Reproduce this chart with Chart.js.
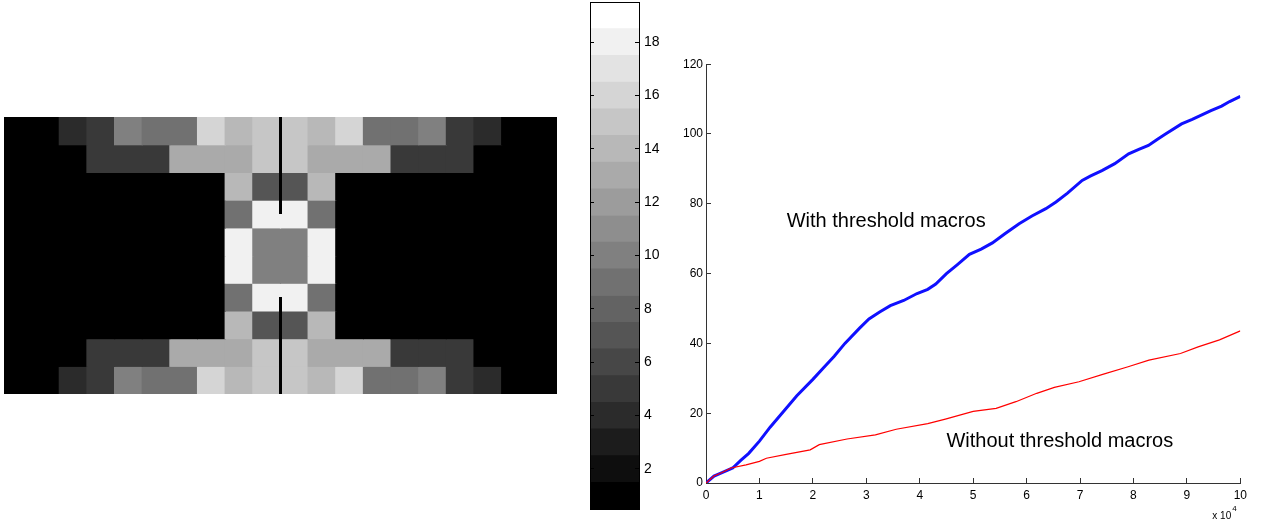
<!DOCTYPE html>
<html>
<head>
<meta charset="utf-8">
<script src="https://cdn.jsdelivr.net/npm/chart.js@4.4.1/dist/chart.umd.min.js"></script>
<style>
body { margin: 0; background: #fff; width: 1262px; height: 519px; overflow: hidden; position: relative; }
canvas { position: absolute; }
</style>
</head>
<body>
<canvas id="heat" width="553" height="277" style="left:4px;top:117px"></canvas>
<canvas id="scale" width="81" height="512" style="left:588px;top:0px"></canvas>
<canvas id="growth" width="591" height="472" style="left:666px;top:49px"></canvas>
<script>
// grid of levels (1..19), rows top to bottom
const heatCols = ['1','2','3','4','5','6','7','8','9','10','11','12','13','14','15','16','17','18','19','20'];
const heatRows = [
  [1,1,4,5,10,9,9,16,14,15,15,14,16,9,9,10,5,4,1,1],
  [1,1,1,5,5,5,13,13,13,15,15,13,13,13,5,5,5,1,1,1],
  [1,1,1,1,1,1,1,1,14,7,7,14,1,1,1,1,1,1,1,1],
  [1,1,1,1,1,1,1,1,9,18,18,9,1,1,1,1,1,1,1,1],
  [1,1,1,1,1,1,1,1,18,10,10,18,1,1,1,1,1,1,1,1],
  [1,1,1,1,1,1,1,1,18,10,10,18,1,1,1,1,1,1,1,1],
  [1,1,1,1,1,1,1,1,9,18,18,9,1,1,1,1,1,1,1,1],
  [1,1,1,1,1,1,1,1,14,7,7,14,1,1,1,1,1,1,1,1],
  [1,1,1,5,5,5,13,13,13,15,15,13,13,13,5,5,5,1,1,1],
  [1,1,4,5,10,9,9,16,14,15,15,14,16,9,9,10,5,4,1,1]
];
// the black cut in the middle column (grid units)
const cutX = 10;
const cutTop = [0, 3.5];
const cutBottom = [6.5, 10];

const cbLevels = [1,2,3,4,5,6,7,8,9,10,11,12,13,14,15,16,17,18,19];
const cbTicks = [2,4,6,8,10,12,14,16,18];

const stepsWith = [0,1500,3000,5000,6500,8000,10000,12000,14500,17000,20000,22000,24000,26000,28700,30500,32500,34500,37000,39500,41500,43000,45000,47000,49300,51500,53600,56000,58600,61000,63600,65500,67600,70400,72000,74100,76500,79100,81000,82800,84500,86000,89000,91000,92800,94500,96500,98000,100000];
const countWith = [0,2,3,4.3,6.5,8.5,12,16,20.5,25,29.7,33,36.3,40,44.3,47,49,50.8,52.3,54.3,55.5,57,60,62.5,65.5,67,68.8,71.5,74.3,76.5,78.6,80.5,83,86.7,88,89.5,91.5,94.3,95.6,96.7,98.5,100,102.9,104.2,105.5,106.7,108,109.3,110.8];
const stepsWithout = [0,1500,3000,4700,7500,10000,11300,15000,19500,21200,26400,31700,35600,41500,44800,50000,54300,58000,61900,65200,69800,74400,79000,82900,88800,92100,96100,100000];
const countWithout = [0,2,3,4.3,5.2,6.2,7.1,8.2,9.5,11,12.6,13.8,15.4,17,18.3,20.5,21.4,23.3,25.7,27.4,29,31.2,33.3,35.2,37.1,39,41,43.6];

const xTicks = [0,1,2,3,4,5,6,7,8,9,10];
const yTicks = [0,20,40,60,80,100,120];

const notes = [
  { text: 'With threshold macros', x: 15100, y: 75 },
  { text: 'Without threshold macros', x: 45000, y: 12 }
];

const fam = '"Liberation Sans", Arial, sans-serif';

function grey(k) {
  const g = Math.round((k - 1) / 18 * 255);
  return 'rgb(' + g + ',' + g + ',' + g + ')';
}

// --- image of cells ---
new Chart(document.getElementById('heat'), {
  type: 'bar',
  data: {
    labels: heatCols,
    datasets: [
      ...heatRows.map(row => ({
        data: row.map(() => 1),
        backgroundColor: row.map(grey),
        borderWidth: 0,
        barPercentage: 1,
        categoryPercentage: 1,
        inflateAmount: 0.6,
        grouped: false,
        order: 1
      })),
      { type: 'line', xAxisID: 'x2', yAxisID: 'y2', data: cutTop.map(v => ({ x: cutX, y: v })),
        borderColor: '#000', borderWidth: 3, pointRadius: 0, order: 0 },
      { type: 'line', xAxisID: 'x2', yAxisID: 'y2', data: cutBottom.map(v => ({ x: cutX, y: v })),
        borderColor: '#000', borderWidth: 3, pointRadius: 0, order: 0 }
    ]
  },
  options: {
    responsive: false,
    animation: false,
    layout: { padding: 0 },
    plugins: { legend: { display: false }, tooltip: { enabled: false } },
    scales: {
      x: { stacked: true, display: false, offset: true },
      y: { stacked: true, display: false, min: 0, max: 10, reverse: true },
      x2: { type: 'linear', display: false, min: 0, max: 20 },
      y2: { type: 'linear', display: false, min: 0, max: 10, reverse: true }
    }
  }
});

// --- colour bar ---
new Chart(document.getElementById('scale'), {
  type: 'bar',
  data: {
    labels: ['levels'],
    datasets: cbLevels.map(k => ({
      data: [[k - 0.5, k + 0.5]],
      backgroundColor: grey(k),
      borderWidth: 0,
      barPercentage: 1,
      categoryPercentage: 1,
      grouped: false
    }))
  },
  options: {
    responsive: false,
    animation: false,
    layout: { padding: { left: 1, top: 1, right: 0, bottom: 2 } },
    plugins: { legend: { display: false }, tooltip: { enabled: false } },
    scales: {
      x: { display: true, ticks: { display: false }, grid: { display: false },
           border: { color: '#000', z: 1 }, afterFit(s) { s.height = 1; } },
      xt: { type: 'category', position: 'top', display: true, ticks: { display: false },
            grid: { display: false }, border: { color: '#000', z: 1 }, afterFit(s) { s.height = 1; } },
      y: {
        position: 'right', min: 0.5, max: 19.5,
        afterBuildTicks(s) { s.ticks = cbTicks.map(v => ({ value: v })); },
        ticks: { padding: 9, color: '#000', font: { size: 14, family: fam } },
        grid: { drawOnChartArea: false, tickLength: -4, tickColor: '#000', z: 1 },
        border: { color: '#000', z: 1 },
        afterFit(s) { s.width = 30; s.paddingTop = 0; s.paddingBottom = 0; }
      },
      yl: {
        type: 'linear', position: 'left', min: 0.5, max: 19.5,
        afterBuildTicks(s) { s.ticks = cbTicks.map(v => ({ value: v })); },
        ticks: { display: false },
        grid: { drawOnChartArea: false, tickLength: -4, tickColor: '#000', z: 1 },
        border: { color: '#000', z: 1 },
        afterFit(s) { s.width = 1; s.paddingTop = 0; s.paddingBottom = 0; }
      }
    }
  }
});

// --- growth curves ---
const notePlugin = {
  id: 'notes',
  afterDraw(chart) {
    const { ctx, scales: { x, y } } = chart;
    ctx.save();
    ctx.fillStyle = '#000';
    ctx.textBaseline = 'middle';
    ctx.font = '20px ' + fam;
    notes.forEach(n => ctx.fillText(n.text, x.getPixelForValue(n.x), y.getPixelForValue(n.y)));
    // axis multiplier
    const ex = x.right - 28, ey = x.top + 33;
    ctx.font = '10px ' + fam;
    ctx.fillText('x 10', ex, ey);
    const w = ctx.measureText('x 10').width;
    ctx.font = '8px ' + fam;
    ctx.fillText('4', ex + w + 1, ey - 7);
    ctx.restore();
  }
};

new Chart(document.getElementById('growth'), {
  type: 'line',
  data: {
    datasets: [
      { label: 'Without threshold macros', data: stepsWithout.map((s, i) => ({ x: s, y: countWithout[i] })),
        borderColor: '#ff0000', borderWidth: 1.2, pointRadius: 0 },
      { label: 'With threshold macros', data: stepsWith.map((s, i) => ({ x: s, y: countWith[i] })),
        borderColor: '#1010ff', borderWidth: 3, pointRadius: 0 }
    ]
  },
  options: {
    responsive: false,
    animation: false,
    layout: { padding: { left: 0, top: 10, right: 15, bottom: 0 } },
    plugins: { legend: { display: false }, tooltip: { enabled: false } },
    scales: {
      x: {
        type: 'linear', min: 0, max: 100000,
        afterBuildTicks(s) { s.ticks = xTicks.map(v => ({ value: v * 10000 })); },
        ticks: { callback: v => v / 10000, padding: 10, color: '#000', font: { size: 12, family: fam }, maxRotation: 0 },
        grid: { drawOnChartArea: false, tickLength: -5, tickColor: '#333' },
        border: { color: '#333' },
        afterFit(s) { s.height = 38; }
      },
      y: {
        min: 0, max: 120,
        afterBuildTicks(s) { s.ticks = yTicks.map(v => ({ value: v })); },
        ticks: { padding: 8, color: '#000', font: { size: 12, family: fam } },
        grid: { drawOnChartArea: false, tickLength: -5, tickColor: '#333' },
        border: { color: '#333' },
        afterFit(s) { s.width = 40; }
      }
    }
  },
  plugins: [notePlugin]
});
</script>
</body>
</html>
